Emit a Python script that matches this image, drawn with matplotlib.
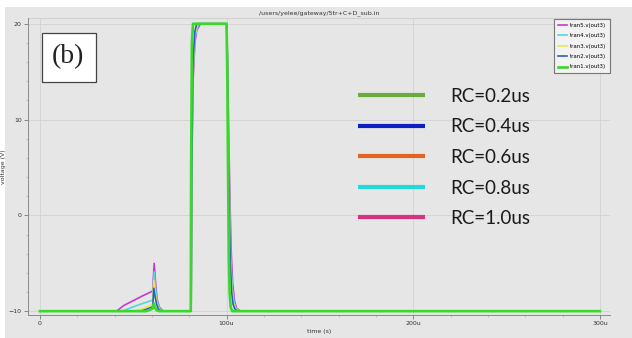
import matplotlib
matplotlib.use("Agg")
import matplotlib.pyplot as plt
from matplotlib.lines import Line2D
from matplotlib.patches import Rectangle

# ---- data (time in microseconds, voltage in V) ----
t1 = [0, 57, 59, 60.5, 61, 61.5, 62.5, 64, 80.8, 81.0, 81.4, 82.0, 100, 100.4, 100.8, 101.2, 101.6, 102.2, 103, 300]
v1 = [-10, -10, -9.85, -9.7, -9.2, -9.6, -9.9, -10, -10, 5, 18, 20, 20, 14, 4, -4, -8, -9.6, -10, -10]

t2 = [0, 54, 57, 60.4, 61, 61.8, 62.5, 63.5, 65, 81, 81.3, 82, 83, 84, 100, 100.5, 101, 101.5, 102, 102.7, 103.5, 104.5, 106, 300]
v2 = [-10, -10, -9.8, -9.55, -7.6, -8.6, -9.3, -9.8, -10, -10, 5, 16, 19.2, 20, 20, 15, 7, 0, -5, -8, -9.3, -9.8, -10, -10]

t3 = [0, 50, 55, 60.4, 61, 61.8, 62.5, 63.5, 65, 81, 81.3, 82, 83, 84.5, 100, 100.5, 101, 101.5, 102, 102.8, 103.7, 104.8, 106.5, 300]
v3 = [-10, -10, -9.75, -9.3, -6.8, -8.2, -9.1, -9.7, -10, -10, 5, 15.5, 19, 20, 20, 15.5, 8, 1, -4.5, -7.8, -9.2, -9.8, -10, -10]

t4 = [0, 44, 50, 55, 60.4, 61.2, 62, 62.8, 64, 65.5, 81, 81.3, 82, 83, 85, 100, 100.5, 101, 101.5, 102.2, 103, 104, 105, 107, 300]
v4 = [-10, -10, -9.55, -9.2, -8.85, -5.9, -7.8, -9.0, -9.7, -10, -10, 4.5, 15, 18.6, 20, 20, 16, 9, 2, -4.5, -7.5, -9.1, -9.7, -10, -10]

t5 = [0, 41, 45, 50, 55, 60.4, 61.2, 62, 62.8, 64, 66, 81, 81.3, 82, 83, 84, 86, 100, 100.5, 101, 101.7, 102.4, 103.2, 104.2, 105.3, 107.5, 300]
v5 = [-10, -10, -9.4, -8.9, -8.4, -7.9, -5.0, -7.2, -8.8, -9.6, -10, -10, 4, 14, 18, 19.3, 20, 20, 16.5, 10, 2.5, -3.5, -7, -8.9, -9.7, -10, -10]

trace_names = ["tran5.v(out3)", "tran4.v(out3)", "tran3.v(out3)", "tran2.v(out3)", "tran1.v(out3)"]
trace_colors = ["#c23ccf", "#4fd9dc", "#e8e84a", "#2a5fc0", "#3ad82a"]

rc_labels = ["RC=0.2us", "RC=0.4us", "RC=0.6us", "RC=0.8us", "RC=1.0us"]
rc_colors = ["#6aac3c", "#0c1fc4", "#e2651f", "#22dada", "#d8317f"]

xticks = [0, 100, 200, 300]
xticklabels = ["0", "100u", "200u", "300u"]
yticks = [-10, 0, 10, 20]

title = "/users/yelee/gateway/5tr+C+D_sub.in"
panel_label = "(b)"

# ---- figure ----
W, H = 632, 338
fig = plt.figure(figsize=(W / 100, H / 100), dpi=100, facecolor="white")
bg = "#e6e6e6"
fig.patches.append(Rectangle((5 / W, 0), 1 - 5 / W, 1 - 7 / H, transform=fig.transFigure,
                             facecolor=bg, edgecolor="none", zorder=-10))

ax = fig.add_axes([28 / W, (H - 315) / H, (610 - 28) / W, (315 - 18) / H])
ax.set_facecolor(bg)

series = [(t5, v5), (t4, v4), (t3, v3), (t2, v2), (t1, v1)]
handles = []
for (t, v), c, name in zip(series, trace_colors, trace_names):
    lw = 1.9 if name.startswith("tran1") else 1.2
    h, = ax.plot(t, v, color=c, lw=lw, label=name, solid_joinstyle="round")
    handles.append(h)

ax.set_xlim(-6.4, 305.4)
ax.set_ylim(-10.4, 20.6)
ax.set_xticks(xticks)
ax.set_xticklabels(xticklabels)
ax.set_yticks(yticks)
ax.set_xticks(range(0, 301, 20), minor=True)
ax.set_yticks(range(-10, 21, 2), minor=True)
ax.tick_params(axis="both", which="major", labelsize=4.5, length=3, width=0.6,
               color="#777777", labelcolor="#333333", pad=1.5)
ax.tick_params(axis="both", which="minor", length=1.5, width=0.4, color="#999999")
ax.grid(True, which="major", color="#d2d2d2", lw=0.6)
ax.set_axisbelow(True)
for s in ["top", "right"]:
    ax.spines[s].set_visible(False)
ax.axhline(20.6, color="#d2d2d2", lw=0.8, clip_on=False)
for s in ["left", "bottom"]:
    ax.spines[s].set_color("#8a8a8a")
    ax.spines[s].set_linewidth(0.7)

ax.set_title(title, fontsize=4.5, color="#333333", pad=3)
ax.set_xlabel("time (s)", fontsize=4.5, color="#333333", labelpad=2)
ax.set_ylabel("voltage (V)", fontsize=4.5, color="#333333", labelpad=2)

leg1 = ax.legend(handles=handles, loc="upper right", fontsize=3.9, frameon=True,
                 fancybox=False, edgecolor="#777777", facecolor="#f2f2f2", framealpha=1,
                 handlelength=1.7, handletextpad=0.5, labelspacing=1.0, borderpad=0.7,
                 borderaxespad=0,
                 bbox_to_anchor=(610 / W, (H - 19) / H), bbox_transform=fig.transFigure)
leg1.get_frame().set_linewidth(0.8)
ax.add_artist(leg1)

rc_handles = [Line2D([], [], color=c, lw=3.0, solid_capstyle="butt") for c in rc_colors]
leg2 = ax.legend(handles=rc_handles, labels=rc_labels, loc="upper left", frameon=False,
                 prop={"family": "Lato", "size": 13.5}, handlelength=3.57, handletextpad=1.33,
                 labelspacing=0.72, borderpad=0, borderaxespad=0,
                 bbox_to_anchor=(358 / W, (H - 88) / H), bbox_transform=fig.transFigure)
for txt in leg2.get_texts():
    txt.set_color("#1a1a1a")

# panel label box
fig.patches.append(Rectangle((42 / W, (H - 82) / H), 54 / W, 49 / H, transform=fig.transFigure,
                             facecolor="white", edgecolor="#444444", lw=0.9, zorder=5))
fig.text(68 / W, (H - 57) / H, panel_label, ha="center", va="center",
         fontsize=20, family="Liberation Serif", color="#222222", zorder=6)

fig.savefig("out.png", dpi=100, facecolor=fig.get_facecolor())
